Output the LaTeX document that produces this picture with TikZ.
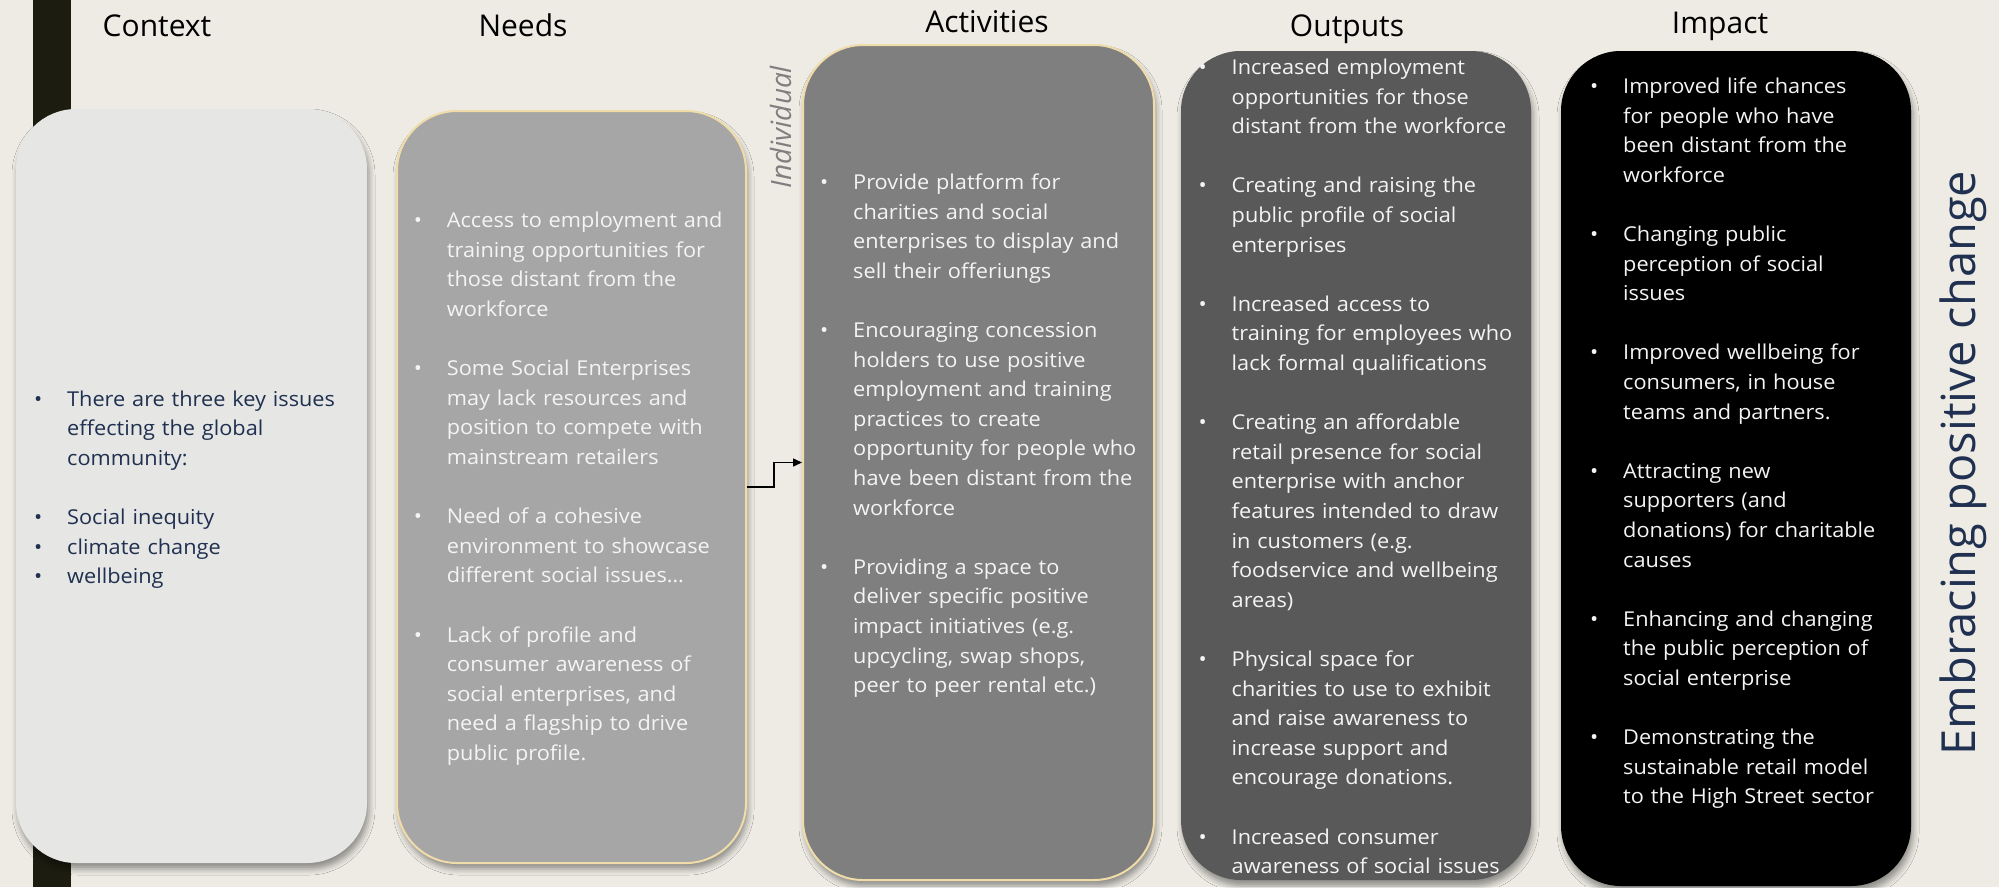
\documentclass[tikz,border=0pt]{standalone}
\usepackage{fontspec}
\setmainfont{Open Sans}
\newfontfamily\bodyfont{Open Sans}[FakeStretch=1.06]
\usetikzlibrary{arrows.meta,shadows.blur}

\definecolor{paper}{HTML}{EEEBE4}
\definecolor{barcol}{HTML}{1C1C10}
\definecolor{ctxfill}{HTML}{E6E6E4}
\definecolor{needfill}{HTML}{A6A6A6}
\definecolor{actfill}{HTML}{7F7F7F}
\definecolor{outfill}{HTML}{595959}
\definecolor{rim}{HTML}{F0DCA8}
\definecolor{navy}{HTML}{1F3050}
\definecolor{offwhite}{HTML}{F4F4F4}

% bullet and hanging indent for the lists
\newcommand{\itm}{\makebox[33pt][l]{\textbullet}}
\newcommand{\cont}{\hspace*{33pt}}
\newcommand{\gap}{29.6pt}

\tikzset{
  stage/.style={rounded corners=60pt, inner sep=0pt,
    blur shadow={shadow xshift=2pt, shadow yshift=-6pt, shadow blur radius=6pt, shadow opacity=40}},
  heading/.style={anchor=base, font=\fontsize{30}{36}\selectfont},
  bullets/.style={anchor=base west, align=left, inner sep=0pt, text width=330pt,
    font=\bodyfont\fontsize{20.5}{29.6}\selectfont, text=offwhite},
}

\begin{document}
\begin{tikzpicture}[x=1pt, y=-1pt]
	% page and side bar
	\fill[paper] (0,0) rectangle (1999,887);
	\useasboundingbox (0,0) rectangle (1999,887);
	\fill[barcol] (33,0) rectangle (71,887);
	
	% columns
	\node[stage, fill=ctxfill, minimum width=351pt, minimum height=754pt] (context) at (191.5,486) {};
	\node[stage, fill=needfill, draw=rim, line width=2pt, minimum width=349pt, minimum height=752pt] (needs) at (571.5,487) {};
	\node[stage, fill=actfill, draw=rim, line width=2pt, minimum width=351pt, minimum height=835pt] (activities) at (978.5,462.5) {};
	\node[stage, fill=outfill, minimum width=350pt, minimum height=829pt] (outputs) at (1356,465.5) {};
	\node[stage, fill=black, minimum width=350pt, minimum height=835pt] (impact) at (1736,468.5) {};
	
	% headings
	\node[heading] (hcontext) at (157,36) {Context};
	\node[heading] (hneeds) at (523,36) {Needs};
	\node[heading] (hactivities) at (987,32) {Activities};
	\node[heading] (houtputs) at (1347,36) {Outputs};
	\node[heading] (himpact) at (1720,33) {Impact};
	
	\node[rotate=90, anchor=base, text=actfill, font=\itshape\fontsize{28}{33}\selectfont] (individual) at (791,127) {Individual};
	\node[rotate=90, anchor=base, text=navy, font=\fontsize{47}{56}\selectfont] (motto) at (1975,463) {Embracing positive change};
	
	% lists
	\node[bullets, text=navy] (ctxlist) at (34,406) {\itm There are three key issues\\ \cont effecting the global\\ \cont community:\\[\gap]
		\itm Social inequity\\ \itm climate change\\ \itm wellbeing};
	
	\node[bullets] (needlist) at (413.7,227.7) {\itm Access to employment and\\ \cont training opportunities for\\ \cont those distant from the\\ \cont workforce\\[\gap]
		\itm Some Social Enterprises\\ \cont may lack resources and\\ \cont position to compete with\\ \cont mainstream retailers\\[\gap]
		\itm Need of a cohesive\\ \cont environment to showcase\\ \cont different social issues…\\[\gap]
		\itm Lack of profile and\\ \cont consumer awareness of\\ \cont social enterprises, and\\ \cont need a flagship to drive\\ \cont public profile.};
	
	\node[bullets] (actlist) at (820,189.5) {\itm Provide platform for\\ \cont charities and social\\ \cont enterprises to display and\\ \cont sell their offeriungs\\[\gap]
		\itm Encouraging concession\\ \cont holders to use positive\\ \cont employment and training\\ \cont practices to create\\ \cont opportunity for people who\\ \cont have been distant from the\\ \cont workforce\\[\gap]
		\itm Providing a space to\\ \cont deliver specific positive\\ \cont impact initiatives (e.g.\\ \cont upcycling, swap shops,\\ \cont peer to peer rental etc.)};
	
	\node[bullets] (outlist) at (1198.5,74.5) {\itm Increased employment\\ \cont opportunities for those\\ \cont distant from the workforce\\[\gap]
		\itm Creating and raising the\\ \cont public profile of social\\ \cont enterprises\\[\gap]
		\itm Increased access to\\ \cont training for employees who\\ \cont lack formal qualifications\\[\gap]
		\itm Creating an affordable\\ \cont retail presence for social\\ \cont enterprise with anchor\\ \cont features intended to draw\\ \cont in customers (e.g.\\ \cont foodservice and wellbeing\\ \cont areas)\\[\gap]
		\itm Physical space for\\ \cont charities to use to exhibit\\ \cont and raise awareness to\\ \cont increase support and\\ \cont encourage donations.\\[\gap]
		\itm Increased consumer\\ \cont awareness of social issues};
	
	\node[bullets] (implist) at (1590,93.5) {\itm Improved life chances\\ \cont for people who have\\ \cont been distant from the\\ \cont workforce\\[\gap]
		\itm Changing public\\ \cont perception of social\\ \cont issues\\[\gap]
		\itm Improved wellbeing for\\ \cont consumers, in house\\ \cont teams and partners.\\[\gap]
		\itm Attracting new\\ \cont supporters (and\\ \cont donations) for charitable\\ \cont causes\\[\gap]
		\itm Enhancing and changing\\ \cont the public perception of\\ \cont social enterprise\\[\gap]
		\itm Demonstrating the\\ \cont sustainable retail model\\ \cont to the High Street sector};
	
	% step connector
	\draw[line width=1.5pt, -{Triangle[length=9pt, width=8pt]}] (needs.east) -- ++(27,0) |- (activities.west);
\end{tikzpicture}
\end{document}
